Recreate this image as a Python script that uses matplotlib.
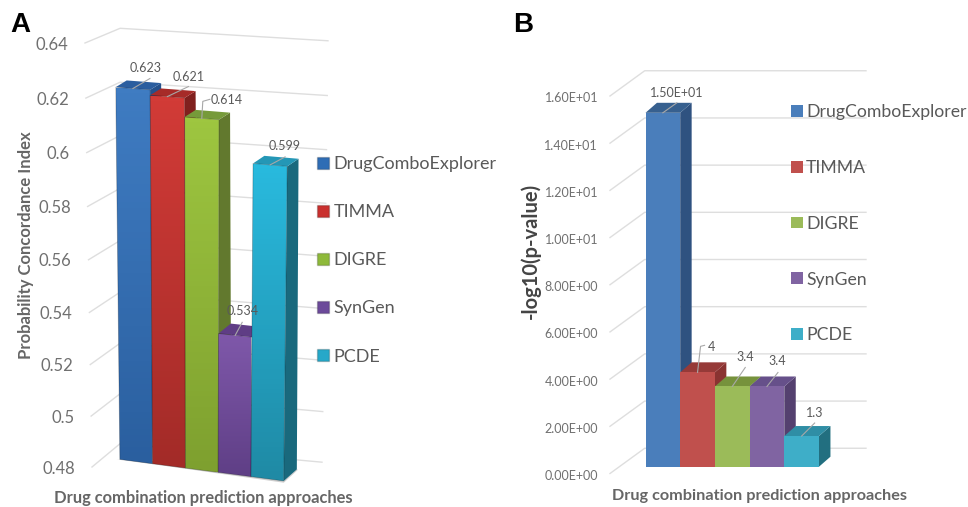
import numpy as np
import matplotlib
matplotlib.use('Agg')
import matplotlib.pyplot as plt
from matplotlib.patches import Polygon, Patch
from matplotlib.transforms import ScaledTranslation
from matplotlib.colors import to_rgb

plt.rcParams['font.family'] = ['Lato', 'DejaVu Sans']

methods = ['DrugComboExplorer', 'TIMMA', 'DIGRE', 'SynGen', 'PCDE']

# panel A values
pci_values = [0.623, 0.621, 0.614, 0.534, 0.599]
pci_labels = ['0.623', '0.621', '0.614', '0.534', '0.599']
pci_ticks = [0.48, 0.5, 0.52, 0.54, 0.56, 0.58, 0.6, 0.62, 0.64]
pci_ticklabels = ['0.48', '0.5', '0.52', '0.54', '0.56', '0.58', '0.6', '0.62', '0.64']

# panel B values
log_values = [15.0, 4.0, 3.4, 3.4, 1.3]
log_labels = ['1.50E+01', '4', '3.4', '3.4', '1.3']
log_ticks = [0, 2, 4, 6, 8, 10, 12, 14, 16]
log_ticklabels = ['0.00E+00', '2.00E+00', '4.00E+00', '6.00E+00', '8.00E+00',
                  '1.00E+01', '1.20E+01', '1.40E+01', '1.60E+01']

W, H = 968, 507
GRID = '#dedede'
TICK_COLOR = '#707070'

fig = plt.figure(figsize=(W / 100, H / 100), dpi=100, facecolor='white')


def pixel_axes(left, top, right, bottom):
    ax = fig.add_axes([left / W, 1 - bottom / H, (right - left) / W, (bottom - top) / H])
    ax.patch.set_visible(False)
    for s in ax.spines.values():
        s.set_visible(False)
    ax.set_xticks([])
    return ax


def fig_xy(x, y):
    return x / W, 1 - y / H


def gradient_poly(ax, pts, top_color, bottom_color, z):
    # vertical gradient clipped to the front face of a bar
    pts = np.array(pts)
    c1, c2 = np.array(to_rgb(top_color)), np.array(to_rgb(bottom_color))
    ramp = np.linspace(0, 1, 64)[:, None, None]
    img = (1 - ramp) * c1 + ramp * c2
    im = ax.imshow(img, extent=[pts[:, 0].min(), pts[:, 0].max(), pts[:, 1].min(), pts[:, 1].max()],
                   aspect='auto', origin='upper', zorder=z)
    im.set_clip_box(fig.bbox)
    im.set_clip_path(Polygon(pts, transform=ax.transData))
    ax.add_patch(Polygon(pts, fill=False, edgecolor='#00000040', lw=0.6, zorder=z + 0.1, clip_on=False))


def label_bar(ax, xy, text, text_off, leader, size=9):
    # leader line and value label, offsets in pixels from the top of the bar
    base = ax.transData.transform(xy)
    to_data = ax.transData.inverted()
    pts = [to_data.transform((base[0] + dx, base[1] - dy)) for dx, dy in leader]
    line = np.array([xy] + pts)
    ax.plot(line[:, 0], line[:, 1], color='#a8a8a8', lw=0.8, zorder=30, clip_on=False)
    ax.annotate(text, xy=xy, xytext=(text_off[0], -text_off[1]), textcoords='offset pixels',
                ha='center', va='center', fontsize=size, color='#595959', zorder=31)


# perspective of panel A: upper gridlines are spaced a little wider than lower ones
CURVE = 0.045


def persp(v):
    u = (np.asarray(v, dtype=float) - 0.48) / 0.16
    return (1 - CURVE) * u + CURVE * u * u


def persp_inv(p):
    p = np.asarray(p, dtype=float)
    u = (-(1 - CURVE) + np.sqrt((1 - CURVE) ** 2 + 4 * CURVE * p)) / (2 * CURVE)
    return 0.48 + 0.16 * u


# ---------- panel A ----------
ax_a = pixel_axes(85, 43, 328, 467)
XMIN_A, XMAX_A = (85 - 133) / 34.4, (328 - 133) / 34.4
ax_a.set_xlim(XMIN_A, XMAX_A)
ax_a.set_yscale('function', functions=(persp, persp_inv))
ax_a.set_ylim(0.48, 0.64)
PX_PER_UNIT_A = 424 / 0.16


def skew_a(x, v):
    # the front of the bars runs downhill to the right and narrows towards the floor
    factor = 1 - 0.047 * (0.62 - v) / 0.14
    s = (0.55 - v) / 0.07
    drop = -5.3 - 2.6 * s + (0.103 + 0.028 * s) * 34.4 * (x + 0.5)
    return 2 + (x - 2) * factor, v - drop / PX_PER_UNIT_A


def depth_a(v):
    t = (v - 0.48) / 0.14
    return 0.38 - 0.06 * t, 0.0046 - 0.0021 * t


# walls
for v in pci_ticks:
    t = (v - 0.48) / 0.16
    left = XMIN_A + 7 / 34.4 * (1 - t)
    rise = 0.0092 - 0.0039 * t
    back = XMIN_A + 1.02
    right = XMAX_A - 6 / 34.4 * (1 - t)
    ax_a.plot([left, back, right], [v, v + rise, v + 0.0019 - 0.0011 * t], color=GRID, lw=1, zorder=1, clip_on=False)

# floor shadow
fl0 = skew_a(-0.6, 0.48)
fl1 = skew_a(4.5, 0.48)
dx, dy = depth_a(0.48)
ax_a.add_patch(Polygon([fl0, (fl1[0], fl1[1] - 0.0007), (fl1[0] + dx + 0.03, fl1[1] + dy - 0.0002),
                        (fl1[0] + dx, fl1[1] + dy)],
                       facecolor='#cfcfcf', edgecolor='none', zorder=2, clip_on=False))

front_top = ['#3f7cc2', '#d23b37', '#9ec640', '#7f58aa', '#29bade']
front_bot = ['#2a5f9f', '#a32b28', '#7ea02f', '#5f3f86', '#1f8aa5']
side_a = ['#24518c', '#80201e', '#62792e', '#563878', '#19697d']
top_a = ['#2b5e9f', '#a62b28', '#769a3a', '#5f3d85', '#2497b6']

for i, v in enumerate(pci_values):
    z = 5 + i * 3
    fl, fr = skew_a(i - 0.5, 0.48), skew_a(i + 0.5, 0.48)
    tl, tr = skew_a(i - 0.5, v), skew_a(i + 0.5, v)
    dxb, dyb = depth_a(0.48)
    dxt, dyt = depth_a(v)
    ax_a.add_patch(Polygon([fr, tr, (tr[0] + dxt, tr[1] + dyt), (fr[0] + dxb, fr[1] + dyb)],
                           facecolor=side_a[i], edgecolor='none', zorder=z, clip_on=False))
    ax_a.add_patch(Polygon([tl, tr, (tr[0] + dxt, tr[1] + dyt), (tl[0] + dxt, tl[1] + dyt)],
                           facecolor=top_a[i], edgecolor='none', zorder=z, clip_on=False))
    gradient_poly(ax_a, [fl, fr, tr, tl], front_top[i], front_bot[i], z + 1)

ax_a.set_xlim(XMIN_A, XMAX_A)
ax_a.set_ylim(0.48, 0.64)

a_text = [(13, -20), (21, -20), (25, -18), (7, -24), (15, -19)]
a_lead = [[(17, -10)], [(21, -10)], [(1, -17), (8, -19)], [(7, -13)], [(15, -8)]]
for i, v in enumerate(pci_values):
    label_bar(ax_a, skew_a(i, v), pci_labels[i], a_text[i], a_lead[i])

ax_a.set_yticks(pci_ticks, pci_ticklabels)
ax_a.minorticks_off()
ax_a.tick_params(axis='y', length=0, pad=12.2, labelsize=12, labelcolor=TICK_COLOR)
for i, lab in enumerate(reversed(ax_a.get_yticklabels())):
    lab.set_transform(lab.get_transform() + ScaledTranslation(i * 0.9 / 100, 0, fig.dpi_scale_trans))

ax_a.set_xlabel('Drug combination prediction approaches', fontsize=11.9, fontweight='bold', color='#666666')
ax_a.xaxis.set_label_coords(*fig_xy(203, 490), transform=fig.transFigure)
ax_a.set_ylabel('Probability Concordance Index', fontsize=12, fontweight='bold', color='#666666')
ax_a.yaxis.set_label_coords(*fig_xy(34, 245), transform=fig.transFigure)

legend_a = ['#2f6db5', '#c9302e', '#8eb93a', '#6c4a9a', '#26a8c9']
ax_a.legend(handles=[Patch(facecolor=c, edgecolor='#00000030', label=m) for c, m in zip(legend_a, methods)],
            loc='upper left', bbox_to_anchor=fig_xy(317, 156), bbox_transform=fig.transFigure,
            frameon=False, fontsize=13, labelspacing=1.78, handlelength=0.66, handleheight=0.66,
            handletextpad=0.25, borderpad=0, borderaxespad=0, labelcolor='#595959')

# ---------- panel B ----------
ax_b = pixel_axes(610, 96, 866, 473.5)
XMIN_B, XMAX_B = (610 - 662.85) / 34.7, (866 - 662.85) / 34.7
ax_b.set_xlim(XMIN_B, XMAX_B)
ax_b.set_ylim(0, 16)

# walls
for v in log_ticks:
    ax_b.plot([XMIN_B, XMIN_B + 1.0, XMAX_B], [v, v + 1.07, v + 1.07], color=GRID, lw=1, zorder=1, clip_on=False)

BASE_B = 0.288
DX_B, DY_B = 0.33, 0.424
front_b = ['#4a7ebb', '#c0504d', '#9bbb59', '#8064a2', '#3eaec8']
side_b = ['#2f5280', '#8a3331', '#6f8a3c', '#54406f', '#226f80']
top_b = ['#37608f', '#963a38', '#76923c', '#66508a', '#2f8ea5']

for i, v in enumerate(log_values):
    z = 5 + i * 3
    x0, x1 = i - 0.5, i + 0.5
    y0, y1 = BASE_B, BASE_B + v
    ax_b.add_patch(Polygon([(x1, y0), (x1, y1), (x1 + DX_B, y1 + DY_B), (x1 + DX_B, y0 + DY_B)],
                           facecolor=side_b[i], edgecolor='none', zorder=z))
    ax_b.add_patch(Polygon([(x0, y1), (x1, y1), (x1 + DX_B, y1 + DY_B), (x0 + DX_B, y1 + DY_B)],
                           facecolor=top_b[i], edgecolor='none', zorder=z))
    ax_b.bar(i, v, width=1, bottom=BASE_B, color=front_b[i], edgecolor='none', zorder=z + 1)

ax_b.set_xlim(XMIN_B, XMAX_B)
ax_b.set_xticks([])
ax_b.set_ylim(0, 16)

b_text = [(14, -20), (14, -25), (13, -29), (10, -25), (13, -23)]
b_lead = [[(14, -10)], [(3, -26), (7, -27)], [(13, -19)], [(11, -14)], [(13, -13)]]
for i, v in enumerate(log_values):
    label_bar(ax_b, (i, BASE_B + v), log_labels[i], b_text[i], b_lead[i])

ax_b.set_yticks(log_ticks, log_ticklabels)
ax_b.tick_params(axis='y', length=0, pad=8.6, labelsize=9, labelcolor=TICK_COLOR)
for lab in ax_b.get_yticklabels():
    lab.set_transform(lab.get_transform() + ScaledTranslation(0, -1.5 / 100, fig.dpi_scale_trans))

ax_b.set_xlabel('Drug combination prediction approaches', fontsize=11.7, fontweight='bold', color='#666666')
ax_b.xaxis.set_label_coords(*fig_xy(760, 489), transform=fig.transFigure)
ax_b.set_ylabel('-log10(p-value)', fontsize=14.5, fontweight='bold', color='#444444')
ax_b.yaxis.set_label_coords(*fig_xy(541, 251), transform=fig.transFigure)

ax_b.legend(handles=[Patch(facecolor=c, label=m) for c, m in zip(front_b, methods)],
            loc='upper left', bbox_to_anchor=fig_xy(791, 104), bbox_transform=fig.transFigure,
            frameon=False, fontsize=12.7, labelspacing=2.26, handlelength=0.66, handleheight=0.66,
            handletextpad=0.2, borderpad=0, borderaxespad=0, labelcolor='#595959')

# panel letters
fig.text(*fig_xy(20, 25), 'A', fontsize=20, fontweight='bold', family='Liberation Sans', ha='center', va='center')
fig.text(*fig_xy(523, 25), 'B', fontsize=20, fontweight='bold', family='Liberation Sans', ha='center', va='center')

plt.savefig('out.png', dpi=100)
